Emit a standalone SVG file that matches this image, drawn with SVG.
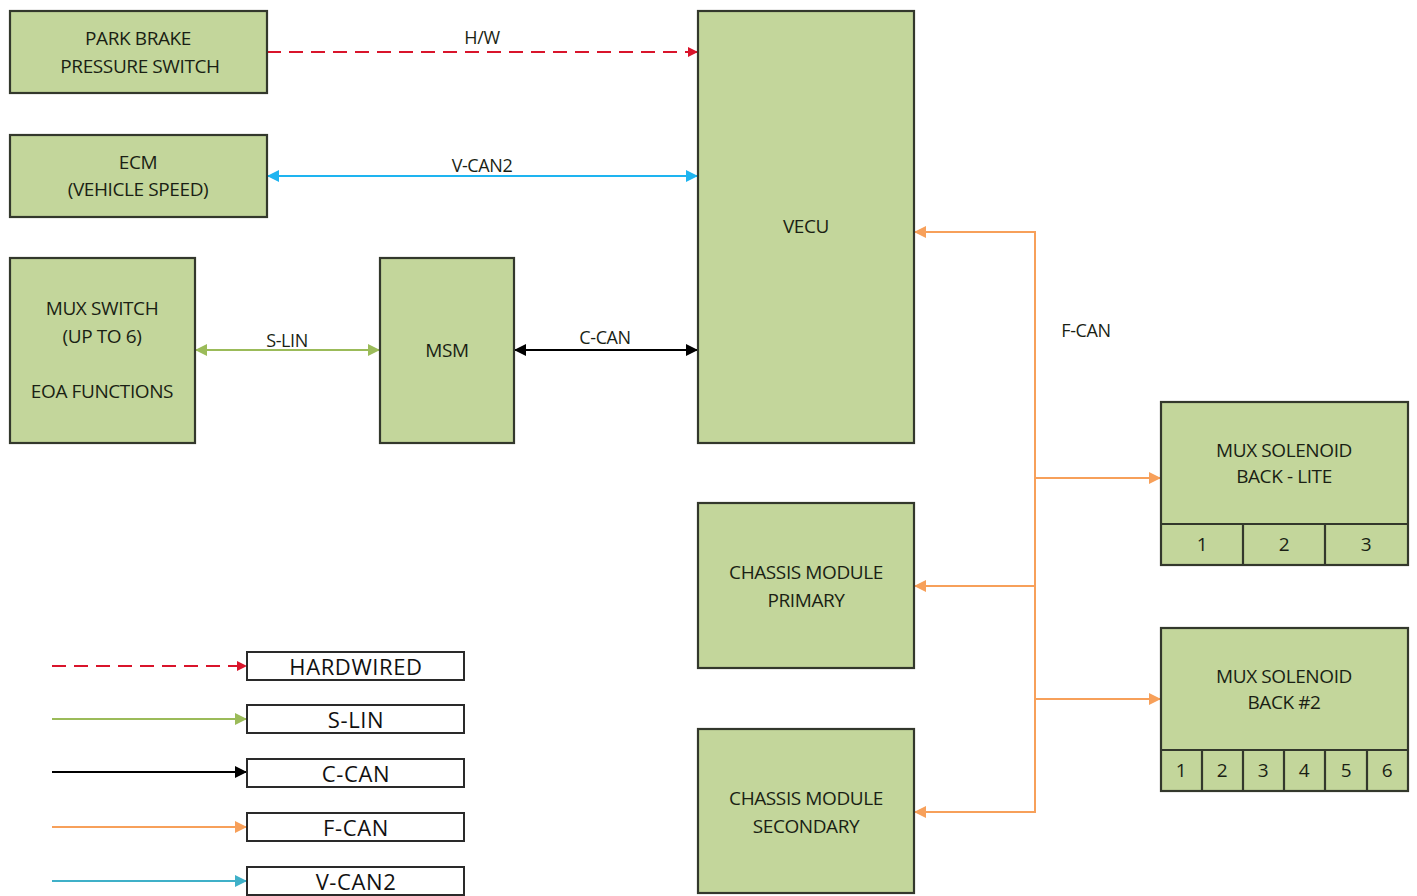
<svg xmlns="http://www.w3.org/2000/svg" width="1417" height="896" viewBox="0 0 1417 896">
<style>
.n{fill:#c3d69b;stroke:#33382c;stroke-width:2.2}
.t{font-family:"Open Sans","Liberation Sans",sans-serif;font-size:19px;fill:#1a1f14;text-anchor:middle;dominant-baseline:central;letter-spacing:-0.4px}
.lb{font-family:"Open Sans","Liberation Sans",sans-serif;font-size:18px;fill:#1a1f14;text-anchor:middle;dominant-baseline:central;letter-spacing:-0.4px}
.lg{fill:#fff;stroke:#2a2a2a;stroke-width:2}
.lt{font-family:"Open Sans","Liberation Sans",sans-serif;font-size:22px;fill:#111;text-anchor:middle;dominant-baseline:central;letter-spacing:0.6px}
.c{fill:none;stroke-width:2}
</style>
<defs>
<marker id="aR" markerWidth="10" markerHeight="10" refX="9" refY="5" orient="auto-start-reverse" markerUnits="userSpaceOnUse"><path d="M0,0 L10,5 L0,10 z" fill="#d9142b"/></marker>
<marker id="aB" markerWidth="12" markerHeight="12" refX="11" refY="6" orient="auto-start-reverse" markerUnits="userSpaceOnUse"><path d="M0,0 L12,6 L0,12 z" fill="#1eb4f0"/></marker>
<marker id="aG" markerWidth="12" markerHeight="12" refX="11" refY="6" orient="auto-start-reverse" markerUnits="userSpaceOnUse"><path d="M0,0 L12,6 L0,12 z" fill="#9bbb59"/></marker>
<marker id="aK" markerWidth="12" markerHeight="12" refX="11" refY="6" orient="auto-start-reverse" markerUnits="userSpaceOnUse"><path d="M0,0 L12,6 L0,12 z" fill="#000"/></marker>
<marker id="aO" markerWidth="12" markerHeight="12" refX="11" refY="6" orient="auto-start-reverse" markerUnits="userSpaceOnUse"><path d="M0,0 L12,6 L0,12 z" fill="#f7a05a"/></marker>
<marker id="aT" markerWidth="12" markerHeight="12" refX="11" refY="6" orient="auto-start-reverse" markerUnits="userSpaceOnUse"><path d="M0,0 L12,6 L0,12 z" fill="#3fb0c8"/></marker>
</defs>
<rect width="1417" height="896" fill="#fff"/>

<g id="connectors">
<line class="c" x1="267" y1="52" x2="697" y2="52" stroke="#d9142b" stroke-dasharray="14,8" marker-end="url(#aR)"/>
<text class="lb" x="482" y="37">H/W</text>
<line class="c" x1="268" y1="176" x2="697" y2="176" stroke="#1eb4f0" marker-start="url(#aB)" marker-end="url(#aB)"/>
<text class="lb" x="482" y="165">V-CAN2</text>
<line class="c" x1="196" y1="350" x2="379" y2="350" stroke="#9bbb59" stroke-width="3" marker-start="url(#aG)" marker-end="url(#aG)"/>
<text class="lb" x="287" y="340">S-LIN</text>
<line class="c" x1="515" y1="350" x2="697" y2="350" stroke="#000" marker-start="url(#aK)" marker-end="url(#aK)"/>
<text class="lb" x="605" y="337">C-CAN</text>
<polyline class="c" points="915,232 1035,232 1035,812 915,812" stroke="#f7a05a" marker-start="url(#aO)" marker-end="url(#aO)"/>
<line class="c" x1="1035" y1="586" x2="915" y2="586" stroke="#f7a05a" marker-end="url(#aO)"/>
<line class="c" x1="1035" y1="478" x2="1160" y2="478" stroke="#f7a05a" marker-end="url(#aO)"/>
<line class="c" x1="1035" y1="699" x2="1160" y2="699" stroke="#f7a05a" marker-end="url(#aO)"/>
<text class="lb" x="1086" y="330">F-CAN</text>
</g>

<g id="park-brake"><rect class="n" x="10" y="11" width="257" height="82"/><text class="t" x="138" y="38">PARK BRAKE</text><text class="t" x="140" y="66">PRESSURE SWITCH</text></g>
<g id="ecm"><rect class="n" x="10" y="135" width="257" height="82"/><text class="t" x="138" y="162">ECM</text><text class="t" x="138" y="189">(VEHICLE SPEED)</text></g>
<g id="mux-switch"><rect class="n" x="10" y="258" width="185" height="185"/><text class="t" x="102" y="308">MUX SWITCH</text><text class="t" x="102" y="336">(UP TO 6)</text><text class="t" x="102" y="391">EOA FUNCTIONS</text></g>
<g id="msm"><rect class="n" x="380" y="258" width="134" height="185"/><text class="t" x="447" y="350">MSM</text></g>
<g id="vecu"><rect class="n" x="698" y="11" width="216" height="432"/><text class="t" x="806" y="226">VECU</text></g>
<g id="chassis-primary"><rect class="n" x="698" y="503" width="216" height="165"/><text class="t" x="806" y="572">CHASSIS MODULE</text><text class="t" x="806" y="600">PRIMARY</text></g>
<g id="chassis-secondary"><rect class="n" x="698" y="729" width="216" height="164"/><text class="t" x="806" y="798">CHASSIS MODULE</text><text class="t" x="806" y="826">SECONDARY</text></g>
<g id="mux-sol-backlite"><rect class="n" x="1161" y="402" width="247" height="163"/><path d="M1161,524 H1408 M1243,524 V565 M1325,524 V565" stroke="#33382c" stroke-width="2.2" fill="none"/><text class="t" x="1284" y="450">MUX SOLENOID</text><text class="t" x="1284" y="476">BACK - LITE</text><text class="t" x="1202" y="544">1</text><text class="t" x="1284" y="544">2</text><text class="t" x="1366" y="544">3</text></g>
<g id="mux-sol-back2"><rect class="n" x="1161" y="628" width="247" height="163"/><path d="M1161,750 H1408 M1202,750 V791 M1243,750 V791 M1284,750 V791 M1325,750 V791 M1367,750 V791" stroke="#33382c" stroke-width="2.2" fill="none"/><text class="t" x="1284" y="676">MUX SOLENOID</text><text class="t" x="1284" y="702">BACK #2</text><text class="t" x="1181" y="770">1</text><text class="t" x="1222" y="770">2</text><text class="t" x="1263" y="770">3</text><text class="t" x="1304" y="770">4</text><text class="t" x="1346" y="770">5</text><text class="t" x="1387" y="770">6</text></g>

<g id="legend">
<line class="c" x1="52" y1="666" x2="246" y2="666" stroke="#d9142b" stroke-dasharray="14,8" marker-end="url(#aR)"/>
<rect class="lg" x="247" y="652" width="217" height="28"/><text class="lt" x="356" y="666">HARDWIRED</text>
<line class="c" x1="52" y1="719" x2="246" y2="719" stroke="#9bbb59" marker-end="url(#aG)"/>
<rect class="lg" x="247" y="705" width="217" height="28"/><text class="lt" x="356" y="719">S-LIN</text>
<line class="c" x1="52" y1="772" x2="246" y2="772" stroke="#000" marker-end="url(#aK)"/>
<rect class="lg" x="247" y="759" width="217" height="28"/><text class="lt" x="356" y="773">C-CAN</text>
<line class="c" x1="52" y1="827" x2="246" y2="827" stroke="#f7a05a" marker-end="url(#aO)"/>
<rect class="lg" x="247" y="813" width="217" height="28"/><text class="lt" x="356" y="827">F-CAN</text>
<line class="c" x1="52" y1="881" x2="246" y2="881" stroke="#3fb0c8" marker-end="url(#aT)"/>
<rect class="lg" x="247" y="867" width="217" height="28"/><text class="lt" x="356" y="881">V-CAN2</text>
</g>
</svg>
